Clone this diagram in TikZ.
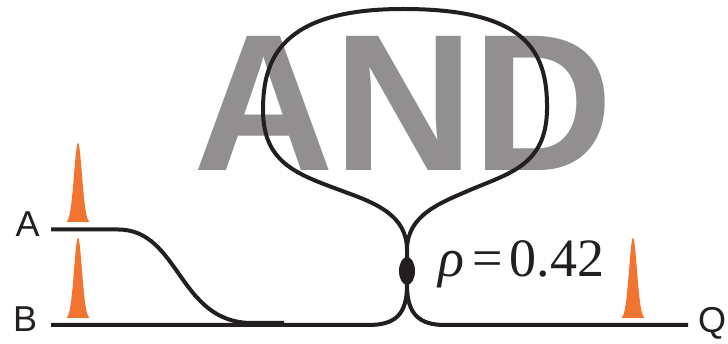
\documentclass[tikz,border=0pt]{standalone}
\usepackage{fontspec}
\usetikzlibrary{shapes.geometric}
\setmainfont{Liberation Sans}
\newfontfamily\serifface{Liberation Serif}
\definecolor{wordgray}{HTML}{918F90}
\definecolor{pulseorange}{HTML}{F37431}
\definecolor{fiberblack}{HTML}{231F20}
\newcommand{\pulseshape}[3]{\fill[pulseorange] plot[domain=-11.5:11.5,samples=61,smooth] ({#1+\x},{#3-(#3-#2)*exp(-(\x/5.6)^2)}) -- cycle;}
\begin{document}
\begin{tikzpicture}[x=1pt,y=-1pt,
  fiber/.style={draw=fiberblack,line width=4pt,line join=round},
  label/.style={inner sep=0pt,text=fiberblack,font=\fontsize{36}{36}\selectfont}]
\useasboundingbox (0,0) rectangle (728,344);
\node[anchor=base west,inner sep=0pt,text=wordgray,font=\fontsize{195}{195}\selectfont\bfseries] (word) at (193,171) {A\kern0pt N\kern-2pt D};
\node[label,anchor=base west] (A) at (15.5,237) {A};
\node[label,anchor=base west] (B) at (13,332) {B};
\node[label,anchor=base west] (Q) at (698,333) {Q};
\node[anchor=base west,inner sep=0pt,text=fiberblack,font=\serifface\fontsize{54}{54}\selectfont] (rho) at (438,277) {\textit{ρ}\kern8pt=\kern7pt 0.42};
\pulseshape{78}{143}{223}
\pulseshape{78}{238}{319}
\pulseshape{633}{238}{319}
\coordinate (aStart) at (51,229.5);
\coordinate (bStart) at (51,325);
\coordinate (qEnd) at (688,325);
\coordinate (busEnd) at (284,323);
\draw[fiber] (aStart) -- (118,229.5) .. controls (180,229.5) and (178,323) .. (252,323) -- (busEnd);
\draw[fiber] (bStart) -- (368,325) .. controls (395,325) and (407,315) .. (407,285) -- (407,250)
  .. controls (407,215) and (375,203) .. (345,192)
  .. controls (300,175) and (263,165) .. (263,110)
  .. controls (263,60) and (280,9) .. (403,9)
  .. controls (525,9) and (548,50) .. (547,110)
  .. controls (546,165) and (510,173) .. (470,190)
  .. controls (440,203) and (407,215) .. (407,250) -- (407,285)
  .. controls (407,315) and (420,325) .. (445,325) -- (qEnd);
\node[ellipse,fill=fiberblack,minimum width=16pt,minimum height=28pt,inner sep=0pt] (coupler) at (407,271) {};
\end{tikzpicture}
\end{document}
